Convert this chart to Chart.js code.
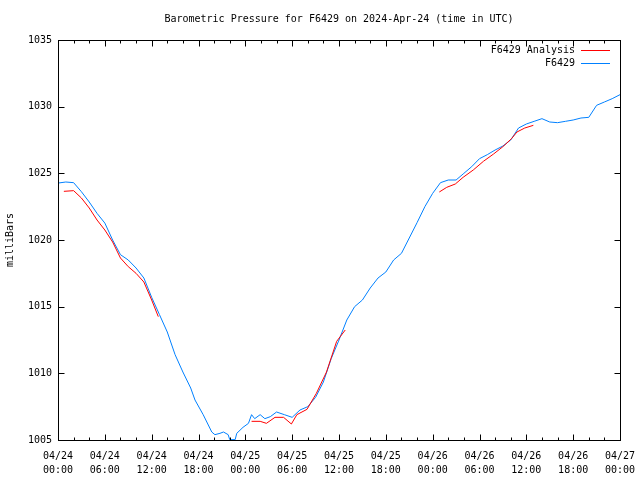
<!DOCTYPE html>
<html>
<head>
<meta charset="utf-8">
<script src="https://cdn.jsdelivr.net/npm/chart.js@4/dist/chart.umd.min.js"></script>
<style>
  html, body { margin: 0; padding: 0; background: #fff; }
  canvas { display: block; }
</style>
</head>
<body>
<canvas id="pressureChart" width="640" height="480"></canvas>
<script>
// hours since 2024-04-24 00:00 UTC
const tickDays = ['04/24', '04/24', '04/24', '04/24', '04/25', '04/25', '04/25', '04/25', '04/26', '04/26', '04/26', '04/26', '04/27'];
const tickTimes = ['00:00', '06:00', '12:00', '18:00', '00:00', '06:00', '12:00', '18:00', '00:00', '06:00', '12:00', '18:00', '00:00'];

const obsHours = [0, 1, 2, 3, 4, 5, 6, 7, 8, 9, 10, 11, 12, 13, 14, 15, 16, 17, 17.55, 18.6, 19.7, 20.1, 20.75, 21.2, 21.8, 22.0, 22.7, 22.9, 23.7, 24.4, 24.8, 25.2, 25.9, 26.5, 27.2, 28, 29, 30, 31, 32, 33, 34, 35, 36, 37, 38, 39, 40, 41, 42, 43, 44, 45, 46, 47, 48, 49, 50, 51, 52, 53, 54, 55, 56, 57, 58, 59, 60, 61, 62, 63, 64, 65, 66, 67, 68, 69, 70, 71, 72];
const obsValues = [1024.27, 1024.35, 1024.3, 1023.62, 1022.85, 1022.0, 1021.27, 1020.0, 1018.9, 1018.5, 1017.9, 1017.15, 1015.7, 1014.4, 1013.1, 1011.4, 1010.1, 1008.9, 1008.0, 1006.9, 1005.6, 1005.4, 1005.5, 1005.6, 1005.4, 1005.03, 1005.03, 1005.5, 1005.95, 1006.25, 1006.9, 1006.6, 1006.9, 1006.6, 1006.75, 1007.1, 1006.9, 1006.7, 1007.25, 1007.5, 1008.2, 1009.35, 1011.1, 1012.5, 1014.0, 1015.0, 1015.5, 1016.4, 1017.15, 1017.6, 1018.5, 1019.0, 1020.15, 1021.3, 1022.5, 1023.5, 1024.3, 1024.5, 1024.5, 1025.0, 1025.5, 1026.1, 1026.4, 1026.75, 1027.05, 1027.5, 1028.4, 1028.7, 1028.9, 1029.1, 1028.85, 1028.8, 1028.9, 1029.0, 1029.15, 1029.2, 1030.1, 1030.35, 1030.6, 1030.9];

// analysis comes in three runs, null breaks the line
const anaHours = [0.75, 2, 3, 4, 5, 6, 7, 8, 9, 10, 11, 12, 12.85, 18, 24.8, 25.9, 26.7, 27.8, 28.9, 29.9, 30.6, 31.9, 33.1, 34.4, 35.7, 36.8, 42, 48.85, 49.8, 50.9, 51.9, 53.2, 54.5, 55.8, 57.0, 58.1, 58.8, 59.8, 60.9];
const anaValues = [1023.65, 1023.7, 1023.15, 1022.4, 1021.5, 1020.75, 1019.85, 1018.65, 1018.0, 1017.5, 1016.85, 1015.5, 1014.25, null, 1006.4, 1006.4, 1006.25, 1006.7, 1006.7, 1006.2, 1006.9, 1007.3, 1008.5, 1010.1, 1012.4, 1013.25, null, 1023.6, 1023.95, 1024.2, 1024.7, 1025.25, 1025.9, 1026.45, 1027.0, 1027.6, 1028.1, 1028.4, 1028.6];

const FONT = 'DejaVu Sans Mono';
Chart.defaults.font.family = FONT;
Chart.defaults.font.size = 10;
Chart.defaults.color = '#000';

const toPoints = (xs, ys) => xs.map((x, i) => ({ x: x, y: ys[i] }));

// gnuplot look: frame, inward ticks, title, ylabel, legend
const gnuplotDecor = {
  id: 'gnuplotDecor',
  afterDraw(chart) {
    const ctx = chart.ctx;
    const a = chart.chartArea;
    const xs = chart.scales.x, ys = chart.scales.y;
    const L = Math.round(a.left) + 0.5, R = Math.round(a.right) + 0.5;
    const T = Math.round(a.top) + 0.5, B = Math.round(a.bottom) + 0.5;
    ctx.save();
    ctx.strokeStyle = '#000';
    ctx.lineWidth = 1;
    ctx.strokeRect(L, T, R - L, B - T);

    ctx.beginPath();
    xs.ticks.forEach(t => {
      const px = Math.round(xs.getPixelForValue(t.value)) + 0.5;
      const len = t.value % 6 === 0 ? 6 : 3;
      ctx.moveTo(px, B); ctx.lineTo(px, B - len);
      ctx.moveTo(px, T); ctx.lineTo(px, T + len);
    });
    ys.ticks.forEach(t => {
      const py = Math.round(ys.getPixelForValue(t.value)) + 0.5;
      ctx.moveTo(L, py); ctx.lineTo(L + 6, py);
      ctx.moveTo(R, py); ctx.lineTo(R - 6, py);
    });
    ctx.stroke();

    ctx.fillStyle = '#000';
    ctx.font = '10px ' + FONT;
    ctx.textBaseline = 'middle';
    ctx.textAlign = 'center';
    ctx.fillText('Barometric Pressure for F6429 on 2024-Apr-24 (time in UTC)', (a.left + a.right) / 2, 19);

    ctx.save();
    ctx.translate(10, (a.top + a.bottom) / 2);
    ctx.rotate(-Math.PI / 2);
    ctx.fillText('milliBars', 0, 0);
    ctx.restore();

    ctx.textAlign = 'right';
    chart.data.datasets.forEach((ds, i) => {
      const y = 50 + i * 13;
      ctx.fillStyle = '#000';
      ctx.fillText(ds.label, 575, y);
      ctx.strokeStyle = ds.borderColor;
      ctx.beginPath();
      ctx.moveTo(581, y + 0.5);
      ctx.lineTo(610, y + 0.5);
      ctx.stroke();
    });
    ctx.restore();
  }
};

new Chart(document.getElementById('pressureChart'), {
  type: 'line',
  data: {
    datasets: [{
      label: 'F6429 Analysis',
      data: toPoints(anaHours, anaValues),
      borderColor: 'rgb(255,0,0)',
      borderWidth: 1,
      pointRadius: 0,
      tension: 0,
      spanGaps: false
    }, {
      label: 'F6429',
      data: toPoints(obsHours, obsValues),
      borderColor: 'rgb(0,128,255)',
      borderWidth: 1,
      pointRadius: 0,
      tension: 0
    }]
  },
  options: {
    responsive: false,
    animation: false,
    layout: { padding: { top: 40, right: 20, left: 0, bottom: 0 } },
    plugins: { legend: { display: false }, tooltip: { enabled: false } },
    scales: {
      x: {
        type: 'linear',
        min: 0,
        max: 72,
        grid: { display: false },
        border: { display: false },
        afterFit(scale) {
          scale.height = 40;
          scale.paddingLeft = 0;
          scale.paddingRight = 0;
        },
        ticks: {
          stepSize: 2,
          autoSkip: false,
          maxRotation: 0,
          padding: 1,
          font: { lineHeight: 1.4 },
          callback: v => v % 6 === 0 ? [tickDays[v / 6], tickTimes[v / 6]] : ''
        }
      },
      y: {
        min: 1005,
        max: 1035,
        grid: { display: false, drawTicks: false },
        border: { display: false },
        afterFit(scale) {
          scale.width = 58;
          scale.paddingTop = 0;
          scale.paddingBottom = 0;
        },
        ticks: { stepSize: 5, padding: 6, callback: v => String(v) }
      }
    }
  },
  plugins: [gnuplotDecor]
});
</script>
</body>
</html>
